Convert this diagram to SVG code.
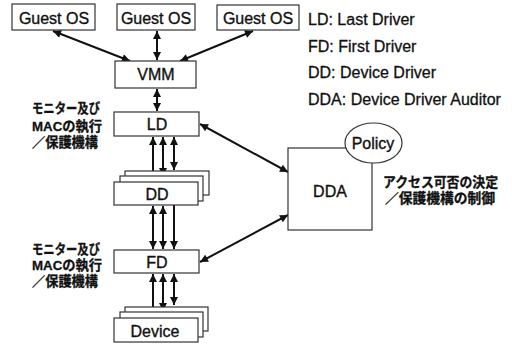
<svg xmlns="http://www.w3.org/2000/svg" width="512" height="345" viewBox="0 0 512 345">
<defs>
<style>
.box{fill:#fff;stroke:#333;stroke-width:1.2}
.lbl{font-family:"Liberation Sans",Arial,sans-serif;font-size:16px;fill:#111;stroke:#111;stroke-width:0.35;text-anchor:middle}
.leg{font-family:"Liberation Sans",Arial,sans-serif;font-size:16px;fill:#111;stroke:#111;stroke-width:0.3}
.jp{font-family:"Liberation Sans","Noto Sans CJK JP",sans-serif;font-size:13.5px;font-weight:bold;fill:#111;stroke:#111;stroke-width:0.3}
.con{stroke:#111;stroke-width:2;fill:none}
.bi{marker-start:url(#ah);marker-end:url(#ah)}
.one{marker-end:url(#ah)}
</style>
<marker id="ah" viewBox="0 0 10 10" refX="10" refY="5" markerWidth="10" markerHeight="8" markerUnits="userSpaceOnUse" orient="auto-start-reverse">
<path d="M0,0 L10,5 L0,10 z" fill="#111"/>
</marker>
</defs>
<rect width="512" height="345" fill="#fff"/>

<g id="connectors">
<line class="con bi" x1="53" y1="31" x2="130" y2="61"/>
<line class="con bi" x1="157" y1="31" x2="157" y2="60"/>
<line class="con bi" x1="253" y1="31" x2="180" y2="61"/>
<line class="con bi" x1="157" y1="89" x2="157" y2="111"/>
<line class="con bi" x1="153" y1="137" x2="153" y2="181"/>
<line class="con bi" x1="163" y1="137" x2="163" y2="176"/>
<line class="con bi" x1="174" y1="137" x2="174" y2="170"/>
<line class="con bi" x1="153" y1="206" x2="153" y2="249"/>
<line class="con bi" x1="163" y1="206" x2="163" y2="249"/>
<line class="con one" x1="174" y1="200" x2="174" y2="249"/>
<line class="con bi" x1="153" y1="274" x2="153" y2="317"/>
<line class="con bi" x1="163" y1="274" x2="163" y2="311"/>
<line class="con bi" x1="174" y1="274" x2="174" y2="305"/>
<line class="con bi" x1="200" y1="124" x2="288" y2="172"/>
<line class="con bi" x1="200" y1="262" x2="288" y2="215"/>
</g>

<g id="guest1"><rect class="box" x="12" y="4" width="83" height="26"/><text class="lbl" x="54" y="24">Guest OS</text></g>
<g id="guest2"><rect class="box" x="117" y="4" width="78" height="26"/><text class="lbl" x="156" y="24">Guest OS</text></g>
<g id="guest3"><rect class="box" x="217" y="5" width="82" height="25"/><text class="lbl" x="258" y="24">Guest OS</text></g>
<g id="vmm"><rect class="box" x="115" y="61" width="81" height="27"/><text class="lbl" x="156" y="80">VMM</text></g>
<g id="ld"><rect class="box" x="114" y="112" width="85" height="24"/><text class="lbl" x="157" y="130">LD</text></g>
<g id="dd">
<rect class="box" x="125" y="171" width="84" height="24"/>
<rect class="box" x="120" y="176" width="83" height="25"/>
<rect class="box" x="114" y="182" width="84" height="23"/>
<text class="lbl" x="157" y="200">DD</text>
</g>
<g id="fd"><rect class="box" x="114" y="250" width="85" height="23"/><text class="lbl" x="157" y="268">FD</text></g>
<g id="device">
<rect class="box" x="125" y="307" width="83" height="24"/>
<rect class="box" x="120" y="312" width="83" height="25"/>
<rect class="box" x="114" y="318" width="84" height="24"/>
<text class="lbl" x="155" y="337">Device</text>
</g>
<g id="dda"><rect class="box" x="288" y="148" width="84" height="82"/><text class="lbl" x="330" y="197">DDA</text></g>
<g id="policy"><ellipse class="box" cx="373.5" cy="143" rx="28.5" ry="20"/><text class="lbl" x="373" y="149">Policy</text></g>

<g id="legend">
<text class="leg" x="308" y="25">LD: Last Driver</text>
<text class="leg" x="308" y="52">FD: First Driver</text>
<text class="leg" x="308" y="78">DD: Device Driver</text>
<text class="leg" x="308" y="105">DDA: Device Driver Auditor</text>
</g>

<g id="note-ld">
<text class="jp" x="32" y="113" textLength="68" lengthAdjust="spacingAndGlyphs">モニター及び</text>
<text class="jp" x="32" y="131" textLength="70" lengthAdjust="spacingAndGlyphs">MACの執行</text>
<text class="jp" x="32" y="147" textLength="66" lengthAdjust="spacingAndGlyphs">／保護機構</text>
</g>
<g id="note-fd">
<text class="jp" x="32" y="254" textLength="68" lengthAdjust="spacingAndGlyphs">モニター及び</text>
<text class="jp" x="32" y="270" textLength="70" lengthAdjust="spacingAndGlyphs">MACの執行</text>
<text class="jp" x="32" y="286" textLength="66" lengthAdjust="spacingAndGlyphs">／保護機構</text>
</g>
<g id="note-dda">
<text class="jp" x="383" y="187" font-size="14" textLength="115" lengthAdjust="spacingAndGlyphs">アクセス可否の決定</text>
<text class="jp" x="385" y="203" font-size="14" textLength="110" lengthAdjust="spacingAndGlyphs">／保護機構の制御</text>
</g>
</svg>
